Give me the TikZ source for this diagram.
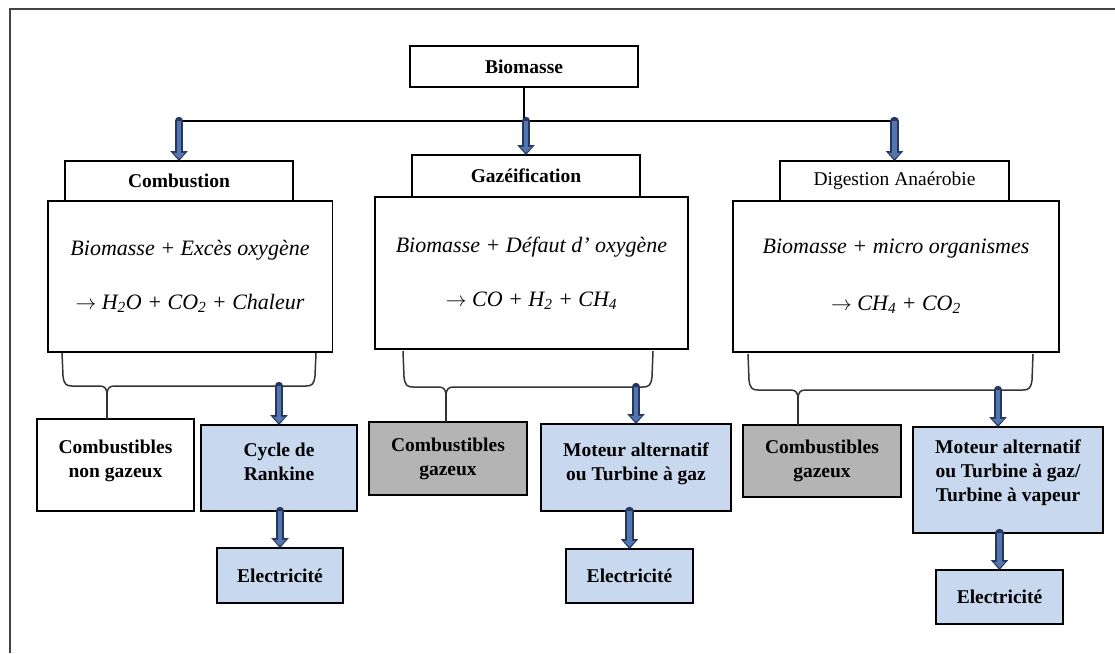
\documentclass[tikz,border=0pt]{standalone}
\usepackage{fontspec}
\setmainfont{Liberation Serif}
\usetikzlibrary{arrows.meta,calc}
\definecolor{lblue}{HTML}{C8D8EE}
\definecolor{gbox}{HTML}{B4B4B4}
\definecolor{arrdark}{HTML}{26365C}
\definecolor{arrblue}{HTML}{5277B0}
\definecolor{framec}{HTML}{444444}
\newcommand\lblfont{\fontsize{19.5}{24}\selectfont}
\newcommand\frmfont{\fontsize{22}{26}\selectfont\itshape}
\tikzset{
  box/.style={draw=black, line width=1.5pt, fill=white, inner sep=0pt, outer sep=0pt, align=center, font=\lblfont\bfseries},
  hdrbox/.style={box},
  mainbox/.style={box, font=\frmfont},
  lowbox/.style={box, line width=2.2pt},
  bluebox/.style={lowbox, fill=lblue},
  graybox/.style={lowbox, fill=gbox},
  conn/.style={draw=black, line width=1.8pt},
  bracel/.style={draw=black!80, line width=1.5pt, line join=round},
  arrout/.style={draw=arrdark, line width=8.5pt, line cap=round, -{Triangle[width=17pt,length=10pt]}},
  arrin/.style={draw=arrblue, line width=4.8pt, -{Triangle[width=11.5pt,length=6pt]}, shorten >=2.2pt, shorten <=0pt},
}
\newcommand\barrow[2]{\draw[arrout] #1 -- #2; \draw[arrin] #1 -- #2;}
% #1 left x, #2 right x, #3 tip x, #4 top y, #5 bar y, #6 target node
\newcommand\mybrace[6]{%
  \draw[bracel] ({#1},{#4}) -- ({#1+1},{#5-10}) .. controls ({#1+2},{#5-2}) and ({#1+4},{#5}) .. ({#1+10},{#5})
     -- ({#3-7},{#5}) .. controls ({#3-2},{#5}) and ({#3},{#5+3}) .. ({#3},{#5+9})
     .. controls ({#3},{#5+3}) and ({#3+2},{#5}) .. ({#3+7},{#5})
     -- ({#2-10},{#5}) .. controls ({#2-4},{#5}) and ({#2-2},{#5-2}) .. ({#2-1},{#5-10}) -- ({#2},{#4});
  \coordinate (tip#6) at ({#3},{#5+9});
  \draw[bracel] (tip#6) -- (tip#6 |- #6.north);
}
\begin{document}
\begin{tikzpicture}[x=1pt,y=-1pt]
\useasboundingbox[fill=white] (0,0) rectangle (1115,653);
\draw[framec, line width=1.8pt] (10,653) -- (10,9) -- (1115,9);

% top
\node[hdrbox, minimum width=228pt, minimum height=41pt] (bio) at (524,66.5) {Biomasse};

% headers and main boxes
\node[mainbox, minimum width=284.5pt, minimum height=151pt] (combm) at (190,276.5)
  {Biomasse + Excès oxygène\\[28pt]$\rightarrow$ H\textsubscript{2}O + CO\textsubscript{2} + Chaleur};
\node[hdrbox, minimum width=228pt, minimum height=40pt] (combh) at (179,181) {Combustion};

\node[mainbox, minimum width=313pt, minimum height=152pt] (gazm) at (531.5,273)
  {Biomasse + Défaut d' oxygène\\[28pt]$\rightarrow$ CO + H\textsubscript{2} + CH\textsubscript{4}};
\node[hdrbox, minimum width=228pt, minimum height=42pt] (gazh) at (526,176) {Gazéification};

\node[mainbox, minimum width=326pt, minimum height=151pt] (digm) at (896,276.5)
  {Biomasse + micro organismes\\[31pt]$\rightarrow$ CH\textsubscript{4} + CO\textsubscript{2}};
\node[hdrbox, font=\lblfont, minimum width=229pt, minimum height=40pt] (digh) at (894.5,181) {Digestion Anaérobie};

% lower boxes
\node[lowbox, minimum width=157pt, minimum height=92pt] (cng) at (115.5,465) {Combustibles\\non gazeux\\[-12pt]\mbox{}};
\node[bluebox, minimum width=156pt, minimum height=86pt] (rank) at (279,468) {Cycle de\\Rankine\\[-12pt]\mbox{}};
\node[bluebox, minimum width=126pt, minimum height=55pt] (e1) at (280,575.5) {Electricité};

\node[graybox, minimum width=158pt, minimum height=73pt] (cg1) at (448,458.5) {Combustibles\\gazeux};
\node[bluebox, minimum width=190pt, minimum height=87pt] (mot1) at (636,467.5) {Moteur alternatif\\ou Turbine à gaz\\[-12pt]\mbox{}};
\node[bluebox, minimum width=127pt, minimum height=54pt] (e2) at (629.5,576) {Electricité};

\node[graybox, minimum width=158pt, minimum height=72pt] (cg2) at (822,461) {Combustibles\\gazeux};
\node[bluebox, minimum width=190pt, minimum height=106pt] (mot2) at (1008,480) {Moteur alternatif\\ou Turbine à gaz/\\Turbine à vapeur\\[-6pt]\mbox{}};
\node[bluebox, minimum width=127pt, minimum height=54pt] (e3) at (999.5,597) {Electricité};

% top connector
\coordinate (j) at (524,121);
\draw[conn] (bio.south) -- (j);
\draw[conn] (combh.north |- j) -- (digh.north |- j);
\barrow{(combh.north |- j)}{(combh.north)}
\barrow{(gazh.north |- j)}{(gazh.north)}
\barrow{(digh.north |- j)}{(digh.north)}

% braces
\mybrace{62}{316}{107}{353}{386}{cng}
\mybrace{403}{653}{446}{351}{387}{cg1}
\mybrace{748}{1033}{798}{354}{390}{cg2}

% arrows from braces
\barrow{(rank.north |- 0,386)}{(rank.north)}
\barrow{(mot1.north |- 0,387)}{(mot1.north)}
\barrow{(998,390)}{(998,390 |- mot2.north)}

% arrows to electricity
\barrow{(e1.north |- rank.south)}{(e1.north)}
\barrow{(e2.north |- mot1.south)}{(e2.north)}
\barrow{(e3.north |- mot2.south)}{(e3.north)}
\end{tikzpicture}
\end{document}
